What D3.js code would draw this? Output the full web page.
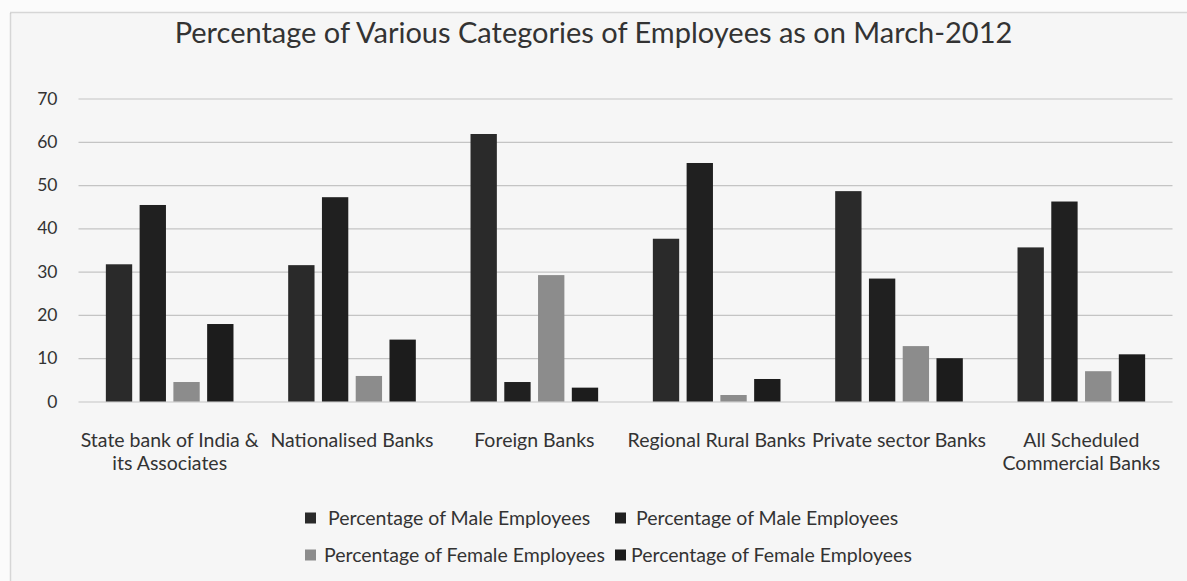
<!DOCTYPE html>
<html>
<head>
<meta charset="utf-8">
<script src="https://cdn.jsdelivr.net/npm/d3@7"></script>
<style>
  html, body { margin: 0; padding: 0; background: #ffffff; }
  svg { display: block; }
  text { font-family: Lato, "Open Sans", "Noto Sans", sans-serif; fill: #333; }
</style>
</head>
<body>
<svg id="chart" width="1187" height="581"></svg>
<script>
const title = "Percentage of Various Categories of Employees as on March-2012";
const categories = [
  "State bank of India & its Associates",
  "Nationalised Banks",
  "Foreign Banks",
  "Regional Rural Banks",
  "Private sector Banks",
  "All Scheduled Commercial Banks"
];
// tick label lines as displayed in the reference
const categoryLabelLines = [
  ["State bank of India &", "its Associates"],
  ["Nationalised Banks"],
  ["Foreign Banks"],
  ["Regional Rural Banks"],
  ["Private sector Banks"],
  ["All Scheduled", "Commercial Banks"]
];
const seriesNames = [
  "Percentage of Male Employees",
  "Percentage of Male Employees",
  "Percentage of Female Employees",
  "Percentage of Female Employees"
];
const series1 = [31.7, 31.5, 61.8, 37.6, 48.6, 35.6];
const series2 = [45.4, 47.2, 4.5, 55.1, 28.4, 46.2];
const series3 = [4.5, 5.9, 29.2, 1.5, 12.8, 7.0];
const series4 = [17.9, 14.3, 3.2, 5.2, 10.0, 10.9];
const yTicks = [0, 10, 20, 30, 40, 50, 60, 70];
const seriesColors = ["#2a2a2a", "#202020", "#8c8c8c", "#1c1c1c"];

const allSeries = [series1, series2, series3, series4];
const seriesKeys = ["s1", "s2", "s3", "s4"];

const svg = d3.select("#chart");
const W = 1187, H = 581;
const margin = { left: 78.5, right: W - 1172.5, top: 98.5, bottom: H - 401.5 };

// background and border
svg.append("rect").attr("x", 0).attr("y", 0).attr("width", W).attr("height", H).attr("fill", "#fbfbfb");
svg.append("rect").attr("x", 10.5).attr("y", 12.5).attr("width", W + 20).attr("height", H + 20)
  .attr("fill", "#f6f6f6").attr("stroke", "#b4b4b4").attr("stroke-width", 1.5).attr("stroke-dasharray", "1,1");

const x0 = d3.scaleBand().domain(categories).range([margin.left, W - margin.right])
  .paddingInner(0.3).paddingOuter(0.15);
const x1 = d3.scaleBand().domain(seriesKeys).range([0, x0.bandwidth()]).paddingInner(0.22);
const y = d3.scaleLinear().domain([0, 70]).range([H - margin.bottom, margin.top]);

// gridlines
const grid = svg.append("g")
  .attr("transform", `translate(${margin.left},0)`)
  .call(d3.axisLeft(y).tickValues(yTicks).tickSize(-(W - margin.left - margin.right)).tickFormat(""));
grid.select(".domain").remove();
grid.selectAll("line").attr("stroke", "#c4c4c4").attr("stroke-width", 1.2);

// y axis labels
const yAxis = svg.append("g")
  .attr("transform", `translate(${margin.left},0)`)
  .call(d3.axisLeft(y).tickValues(yTicks).tickSize(0).tickPadding(21));
yAxis.select(".domain").remove();
yAxis.selectAll("text").style("font-size", "17.5px").attr("fill", "#333")
  .style("font-family", "Lato, 'Open Sans', sans-serif");

// bars
const rows = categories.map((c, i) => ({ cat: c, vals: allSeries.map((s, k) => ({ key: seriesKeys[k], v: s[i], k })) }));
const groups = svg.append("g").selectAll("g").data(rows).join("g")
  .attr("transform", d => `translate(${x0(d.cat)},0)`);
groups.selectAll("rect").data(d => d.vals).join("rect")
  .attr("x", d => x1(d.key))
  .attr("width", x1.bandwidth())
  .attr("y", d => y(d.v))
  .attr("height", d => y(0) - y(d.v))
  .attr("fill", d => seriesColors[d.k]);

// x axis labels (multi-line)
const xAxis = svg.append("g").attr("transform", `translate(0,${y(0)})`)
  .call(d3.axisBottom(x0).tickSize(0).tickPadding(0));
xAxis.select(".domain").remove();
xAxis.selectAll("text").each(function(d) {
  const t = d3.select(this);
  const lines = categoryLabelLines[categories.indexOf(d)];
  t.text(null).attr("dy", null).attr("y", 0)
    .style("font-size", "19.5px").attr("fill", "#333")
    .style("font-family", "Lato, 'Open Sans', sans-serif");
  lines.forEach((l, i) => {
    t.append("tspan").attr("x", 0).attr("y", 45 + i * 23).text(l);
  });
});

// title
svg.append("text").attr("x", 593.5).attr("y", 43).attr("text-anchor", "middle")
  .style("font-size", "29px").attr("fill", "#222").text(title);

// legend
const legendPos = [
  { sx: 305, tx: 328, y: 518 },
  { sx: 615, tx: 636, y: 518 },
  { sx: 305, tx: 324, y: 555 },
  { sx: 615, tx: 631, y: 555 }
];
const legend = svg.append("g").selectAll("g").data(seriesNames).join("g");
legend.append("rect")
  .attr("x", (d, i) => legendPos[i].sx).attr("y", (d, i) => legendPos[i].y - 5.5)
  .attr("width", 11).attr("height", 11).attr("fill", (d, i) => seriesColors[i]);
legend.append("text")
  .attr("x", (d, i) => legendPos[i].tx).attr("y", (d, i) => legendPos[i].y + 7)
  .style("font-size", "19.5px").attr("fill", "#333").text(d => d);
</script>
</body>
</html>
